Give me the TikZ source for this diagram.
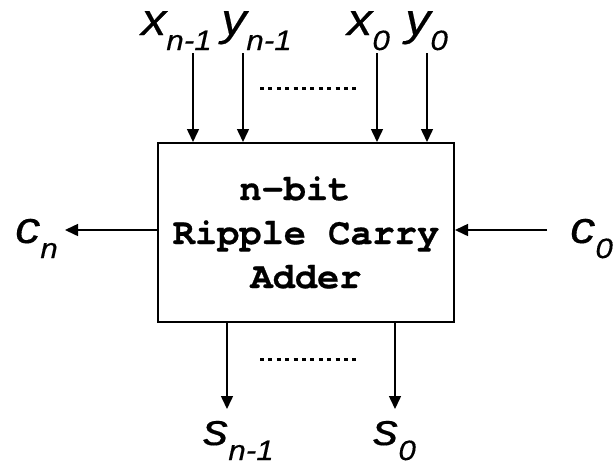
\documentclass[tikz,border=0pt]{standalone}
\usepackage{fontspec}
\setmainfont{Liberation Sans}
\newfontfamily\pinfont[FakeStretch=1.12,FakeBold=0.3]{Liberation Sans}
\newfontfamily\adderfont[FakeBold=0.6]{TeX Gyre Cursor}
\usetikzlibrary{arrows.meta,positioning}

\newcommand{\pinlbl}[2]{{\pinfont\fontsize{45}{45}\selectfont\itshape #1}\raisebox{-15pt}{\pinfont\fontsize{28}{28}\selectfont\itshape #2}}

\begin{document}
\begin{tikzpicture}[x=1pt,y=-1pt,
    every node/.style={inner sep=0pt},
    wire/.style={line width=1.5pt,-{Triangle[length=13pt,width=12pt]}},
    dots/.style={line width=3pt,dash pattern=on 4pt off 4.4pt},
    lbl/.style={anchor=base west}
]
\useasboundingbox (0,0) rectangle (615,467);
% the adder block
\node[draw,line width=2pt,minimum width=296pt,minimum height=179pt] (adder) at (306,232.5) {};
\node[font=\adderfont\bfseries\fontsize{37}{44}\selectfont,align=center] (name) at (adder.center) {n-bit\hphantom{n}\\Ripple Carry\\Adder};

% operand inputs
\node[lbl] (xn1) at (141,35) {\pinlbl{x}{n-1}};
\node[lbl] (yn1) at (221,35) {\pinlbl{y}{n-1}};
\node[lbl] (x0) at (347,35) {\pinlbl{x}{0}};
\node[lbl] (y0) at (405,35) {\pinlbl{y}{0}};
\foreach \n/\x in {xn1/193, yn1/243, x0/377, y0/427} {
    \coordinate (\n-top) at (\x,53);
    \draw[wire] (\n-top) -- (\n-top |- adder.north);
}
\draw[dots] (260,88) -- (360,88);

% sum outputs
\node[lbl] (sn1) at (203,445) {\pinlbl{s}{n-1}};
\node[lbl] (s0) at (373,445) {\pinlbl{s}{0}};
\foreach \n/\x in {sn1/227, s0/395} {
    \coordinate (\n-end) at (\x,409);
    \draw[wire] (\n-end |- adder.south) -- (\n-end);
}
\draw[dots] (260,359) -- (360,359);

% carries
\node[lbl] (cn) at (15,243) {\pinlbl{c}{n}};
\node[lbl] (c0) at (570,243) {\pinlbl{c}{0}};
\coordinate (cn-end) at (65,230);
\coordinate (c0-start) at (547,230);
\draw[wire] (cn-end -| adder.west) -- (cn-end);
\draw[wire] (c0-start) -- (c0-start -| adder.east);
\end{tikzpicture}
\end{document}
